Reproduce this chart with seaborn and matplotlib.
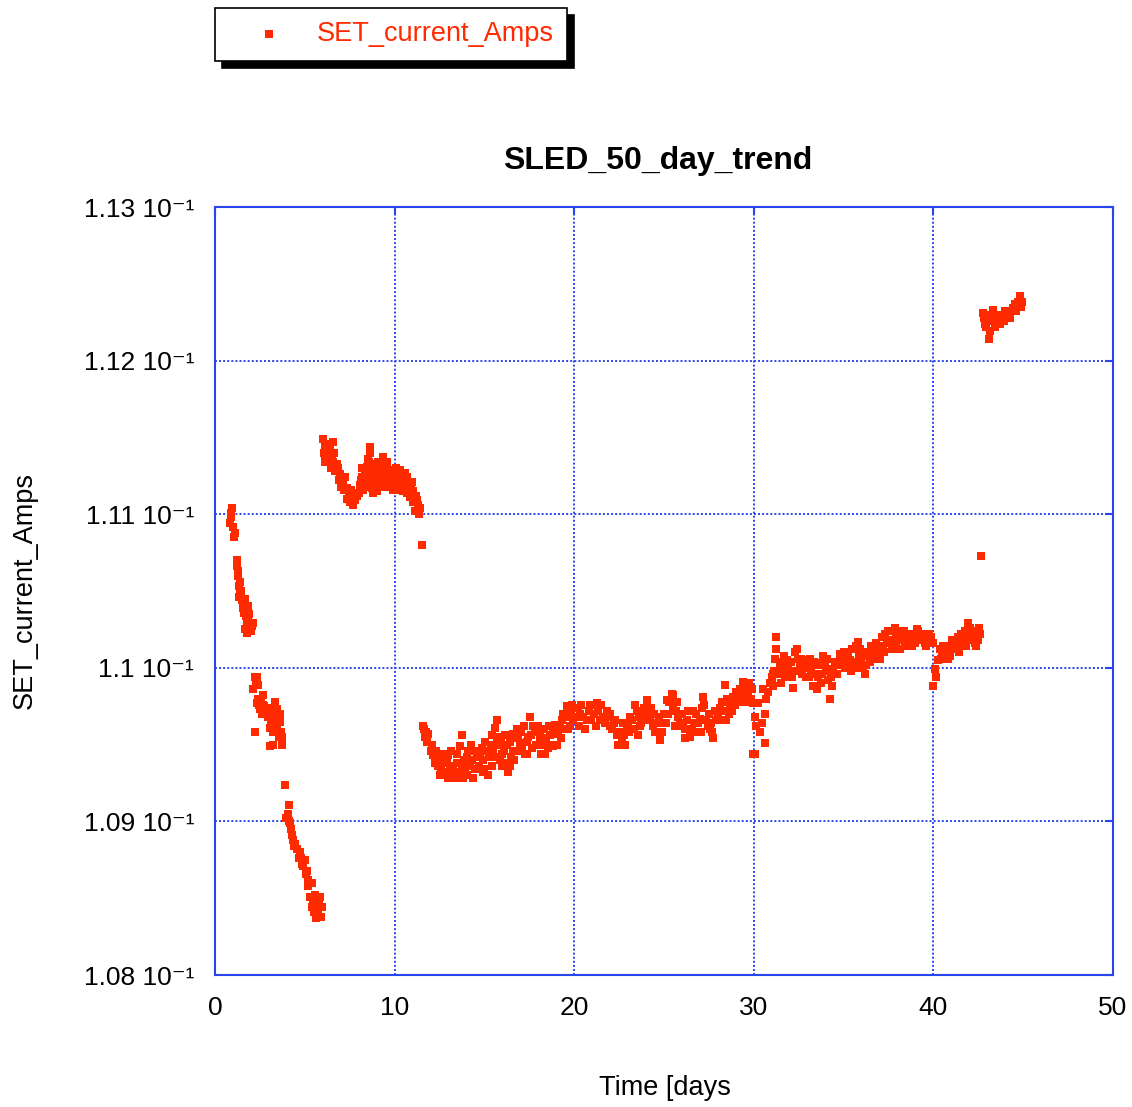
import matplotlib
matplotlib.use("Agg")
from matplotlib import pyplot as plt
from matplotlib.ticker import FuncFormatter, MultipleLocator
import seaborn as sns
import pandas as pd

# values (days, amps), one pair of lists per stretch of the trend
days_drop = [0.84, 0.87, 0.90, 0.93, 1.00, 1.05, 1.11, 1.24, 1.28, 1.30, 1.33, 1.39, 1.39, 1.45, 1.50,
             1.55, 1.58, 1.62, 1.67, 1.68, 1.70, 1.76, 1.76, 1.80, 1.84, 1.85, 1.95, 2.00, 2.04, 2.10,
             2.13, 2.23, 2.28, 2.32, 2.36, 2.40, 2.41, 2.50, 2.55, 2.60, 2.69, 2.75, 2.85, 2.95, 3.06,
             3.06, 3.15, 3.20, 3.25, 3.30, 3.34, 3.43, 3.43, 3.50, 3.55, 3.62, 3.65, 3.71, 3.71,
             3.90, 3.95, 4.05, 4.12, 4.18, 4.22, 4.27, 4.35, 4.45, 4.55, 4.65, 4.73, 4.85, 4.92, 5.01,
             5.05, 5.10, 5.20, 5.29, 5.38, 5.38, 5.45, 5.50, 5.55, 5.62, 5.66, 5.75, 5.80, 5.85, 5.94,
             1.20, 1.35, 1.90, 2.20, 2.45, 2.65, 3.00, 3.10, 3.40, 3.60, 4.10, 4.40, 4.80, 5.15, 5.70,
             5.90]
amps_drop = [0.11094, 0.11101, 0.11098, 0.11104, 0.11092, 0.11085, 0.11088, 0.11066, 0.11060, 0.11063,
             0.11053, 0.11056, 0.11049, 0.11050, 0.11044, 0.11042, 0.11039, 0.11036, 0.11045, 0.11025,
             0.11034, 0.11030, 0.11023, 0.11027, 0.11040, 0.11032, 0.11028, 0.11024, 0.11027, 0.11029,
             0.10986, 0.10958, 0.10990, 0.10977, 0.10994, 0.10980, 0.10989, 0.10973, 0.10978, 0.10970,
             0.10982, 0.10975, 0.10972, 0.10968, 0.10961, 0.10949, 0.10962, 0.10950, 0.10958, 0.10970,
             0.10978, 0.10973, 0.10960, 0.10968, 0.10955, 0.10965, 0.10958, 0.10955, 0.10950,
             0.10924, 0.10902, 0.10905, 0.10911, 0.10899, 0.10895, 0.10891, 0.10888, 0.10885, 0.10882,
             0.10876, 0.10880, 0.10872, 0.10871, 0.10875, 0.10866, 0.10868, 0.10862, 0.10851, 0.10860,
             0.10844, 0.10848, 0.10841, 0.10852, 0.10837, 0.10840, 0.10842, 0.10847, 0.10851, 0.10844,
             0.11070, 0.11046, 0.11035, 0.10994, 0.10976, 0.10976, 0.10974, 0.10966, 0.10964, 0.10970,
             0.10900, 0.10884, 0.10876, 0.10858, 0.10848, 0.10838]

days_hump = [6.03, 6.05, 6.12, 6.12, 6.20, 6.25, 6.30, 6.40, 6.45, 6.50, 6.59, 6.65, 6.70, 6.77, 6.85,
             6.90, 6.96, 7.00, 7.14, 7.20, 7.25, 7.33, 7.45, 7.50, 7.61, 7.70, 7.80, 7.90, 8.00, 8.07,
             8.17, 8.20, 8.30, 8.35, 8.45, 8.50, 8.55, 8.63, 8.63, 8.63, 8.70, 8.75, 8.80, 8.82, 8.90,
             8.95, 9.00, 9.00, 9.10, 9.19, 9.25, 9.30, 9.37, 9.45, 9.50, 9.56, 9.65, 9.74, 9.80, 9.85,
             9.93, 10.00, 10.05, 10.11, 10.20, 10.30, 10.30, 10.40, 10.48, 10.55, 10.60, 10.67, 10.75,
             10.80, 10.86, 10.95, 11.00, 11.05, 11.14, 11.20, 11.23, 11.30, 11.32, 11.35, 11.51,
             6.10, 6.35, 6.55, 7.05, 7.35, 7.55, 7.75, 8.10, 8.25, 8.40, 8.60, 8.85, 9.05, 9.15, 9.35,
             9.60, 9.70, 9.90, 10.10, 10.25, 10.35, 10.50, 10.70, 10.90, 11.10, 11.25, 11.40]
amps_hump = [0.11149, 0.11140, 0.11144, 0.11134, 0.11146, 0.11136, 0.11141, 0.11142, 0.11130, 0.11137,
             0.11147, 0.11140, 0.11128, 0.11133, 0.11130, 0.11122, 0.11126, 0.11118, 0.11121, 0.11116,
             0.11124, 0.11117, 0.11113, 0.11108, 0.11112, 0.11106, 0.11109, 0.11112, 0.11114, 0.11119,
             0.11124, 0.11130, 0.11121, 0.11128, 0.11131, 0.11136, 0.11125, 0.11144, 0.11140, 0.11121,
             0.11132, 0.11117, 0.11114, 0.11129, 0.11124, 0.11133, 0.11127, 0.11115, 0.11126, 0.11131,
             0.11120, 0.11132, 0.11137, 0.11126, 0.11118, 0.11130, 0.11125, 0.11118, 0.11127, 0.11120,
             0.11129, 0.11124, 0.11130, 0.11116, 0.11122, 0.11129, 0.11120, 0.11126, 0.11115, 0.11118,
             0.11127, 0.11124, 0.11119, 0.11114, 0.11111, 0.11121, 0.11115, 0.11108, 0.11102, 0.11112,
             0.11109, 0.11106, 0.11104, 0.11100, 0.11080,
             0.11138, 0.11134, 0.11134, 0.11124, 0.11110, 0.11116, 0.11112, 0.11122, 0.11116, 0.11118,
             0.11134, 0.11120, 0.11134, 0.11118, 0.11124, 0.11134, 0.11122, 0.11116, 0.11126, 0.11118,
             0.11124, 0.11122, 0.11114, 0.11117, 0.11110, 0.11102, 0.11104]

days_low = [11.60, 11.65, 11.69, 11.75, 11.80, 11.88, 12.05, 12.16, 12.25, 12.34, 12.43, 12.50, 12.60,
            12.71, 12.80, 12.90, 12.99, 13.10, 13.20, 13.27, 13.36, 13.45, 13.55, 13.64, 13.73, 13.73,
            13.85, 13.90, 14.01, 14.10, 14.20, 14.30, 14.38, 14.50, 14.60, 14.76, 14.85, 14.94, 15.00,
            15.13, 15.25, 15.35, 15.41, 15.50, 15.59, 15.68, 15.68, 15.80, 15.85, 15.96, 16.10, 16.24,
            16.24, 16.33, 16.40, 16.50, 16.61, 16.61, 16.70, 16.79, 16.90, 16.98, 17.10, 17.26, 17.35,
            17.44, 17.54, 17.63, 17.70, 17.82, 17.95, 18.10, 18.20, 18.30, 18.37, 18.45, 18.56, 18.65,
            18.75, 18.84, 18.93, 19.00, 19.11, 19.20, 19.30, 19.39, 19.50, 19.58, 19.70, 19.77, 19.85,
            19.95,
            12.10, 12.30, 12.55, 12.75, 13.00, 13.15, 13.50, 13.80, 14.05, 14.25, 14.45, 14.70, 14.90,
            15.05, 15.20, 15.45, 15.65, 15.90, 16.00, 16.15, 16.45, 16.65, 16.85, 17.05, 17.20, 17.40,
            17.60, 17.85, 18.00, 18.15, 18.40, 18.60, 18.80, 19.05, 19.25, 19.45, 19.65, 19.90]
amps_low = [0.10962, 0.10960, 0.10955, 0.10958, 0.10952, 0.10957, 0.10946, 0.10943, 0.10938, 0.10940,
            0.10936, 0.10942, 0.10934, 0.10938, 0.10932, 0.10940, 0.10943, 0.10936, 0.10930, 0.10934,
            0.10928, 0.10938, 0.10932, 0.10949, 0.10956, 0.10937, 0.10940, 0.10932, 0.10942, 0.10946,
            0.10936, 0.10940, 0.10928, 0.10934, 0.10942, 0.10944, 0.10948, 0.10940, 0.10934, 0.10946,
            0.10942, 0.10950, 0.10936, 0.10946, 0.10961, 0.10966, 0.10955, 0.10950, 0.10940, 0.10944,
            0.10946, 0.10938, 0.10950, 0.10932, 0.10952, 0.10942, 0.10957, 0.10946, 0.10954, 0.10960,
            0.10956, 0.10951, 0.10948, 0.10944, 0.10952, 0.10955, 0.10968, 0.10948, 0.10962, 0.10960,
            0.10958, 0.10955, 0.10950, 0.10960, 0.10951, 0.10954, 0.10948, 0.10956, 0.10950, 0.10949,
            0.10963, 0.10958, 0.10957, 0.10962, 0.10966, 0.10970, 0.10968, 0.10975, 0.10970, 0.10962,
            0.10972, 0.10966,
            0.10950, 0.10946, 0.10930, 0.10944, 0.10928, 0.10946, 0.10944, 0.10928, 0.10930, 0.10950,
            0.10946, 0.10936, 0.10932, 0.10952, 0.10930, 0.10956, 0.10942, 0.10954, 0.10936, 0.10956,
            0.10936, 0.10940, 0.10946, 0.10958, 0.10962, 0.10944, 0.10956, 0.10950, 0.10962, 0.10944,
            0.10944, 0.10962, 0.10958, 0.10950, 0.10954, 0.10960, 0.10960, 0.10976]

days_mid = [20.10, 20.20, 20.32, 20.50, 20.69, 20.80, 20.95, 21.10, 21.25, 21.35, 21.43, 21.60, 21.70,
            21.81, 21.99, 22.10, 22.20, 22.36, 22.50, 22.64, 22.75, 22.92, 23.00, 23.11, 23.25, 23.35,
            23.48, 23.60, 23.66, 23.80, 23.90, 24.04, 24.13, 24.25, 24.41, 24.50, 24.60, 24.78, 24.90,
            25.00, 25.15, 25.30, 25.43, 25.52, 25.65, 25.80, 25.90, 26.07, 26.20, 26.30, 26.45, 26.55,
            26.63, 26.80, 26.90, 27.00, 27.10, 27.19, 27.35, 27.45, 27.56, 27.65, 27.75, 27.90, 28.02,
            28.10, 28.21, 28.30, 28.40, 28.50, 28.60, 28.68, 28.75, 28.86, 28.95, 29.10, 29.23, 29.30,
            29.42, 29.55, 29.60, 29.70, 29.85, 29.98, 29.98, 30.07, 30.07, 30.15, 30.25, 30.34, 30.45,
            30.53, 30.62, 30.62, 30.70, 30.80, 30.90, 31.00, 31.09,
            20.25, 20.40, 20.60, 20.90, 21.20, 21.50, 21.90, 22.00, 22.30, 22.45, 22.70, 22.85, 23.05,
            23.40, 23.55, 23.75, 24.00, 24.30, 24.45, 24.70, 24.85, 25.10, 25.25, 25.50, 25.60, 25.75,
            26.00, 26.15, 26.35, 26.70, 26.85, 27.05, 27.25, 27.50, 27.70, 27.85, 28.15, 28.45, 28.80,
            29.00, 29.20, 29.45, 29.75, 29.90]
amps_mid = [0.10968, 0.10974, 0.10970, 0.10968, 0.10966, 0.10972, 0.10966, 0.10970, 0.10977, 0.10972,
            0.10966, 0.10968, 0.10964, 0.10972, 0.10962, 0.10960, 0.10964, 0.10956, 0.10958, 0.10953,
            0.10956, 0.10960, 0.10964, 0.10968, 0.10966, 0.10960, 0.10972, 0.10968, 0.10962, 0.10970,
            0.10974, 0.10979, 0.10970, 0.10966, 0.10962, 0.10958, 0.10964, 0.10953, 0.10958, 0.10970,
            0.10979, 0.10978, 0.10983, 0.10975, 0.10972, 0.10968, 0.10964, 0.10962, 0.10960, 0.10966,
            0.10955, 0.10960, 0.10972, 0.10970, 0.10964, 0.10967, 0.10974, 0.10981, 0.10966, 0.10962,
            0.10960, 0.10964, 0.10954, 0.10966, 0.10970, 0.10974, 0.10978, 0.10972, 0.10989, 0.10980,
            0.10970, 0.10975, 0.10978, 0.10981, 0.10976, 0.10982, 0.10986, 0.10984, 0.10991, 0.10986,
            0.10978, 0.10982, 0.10980, 0.10977, 0.10944, 0.10968, 0.10944, 0.10962, 0.10977, 0.10958,
            0.10964, 0.10986, 0.10970, 0.10951, 0.10980, 0.10984, 0.10990, 0.10992, 0.10996,
            0.10962, 0.10976, 0.10960, 0.10976, 0.10962, 0.10976, 0.10968, 0.10970, 0.10966, 0.10950,
            0.10964, 0.10950, 0.10958, 0.10976, 0.10956, 0.10964, 0.10966, 0.10974, 0.10970, 0.10968,
            0.10964, 0.10964, 0.10970, 0.10982, 0.10962, 0.10978, 0.10970, 0.10954, 0.10972, 0.10964,
            0.10958, 0.10958, 0.10976, 0.10970, 0.10958, 0.10972, 0.10966, 0.10966, 0.10972, 0.10984,
            0.10978, 0.10980, 0.10990, 0.10986]

days_rise = [31.00, 31.09, 31.15, 31.27, 31.27, 31.35, 31.46, 31.55, 31.65, 31.75, 31.83, 31.90, 32.02,
             32.10, 32.20, 32.29, 32.35, 32.45, 32.57, 32.70, 32.80, 32.94, 33.05, 33.10, 33.22, 33.31,
             33.40, 33.50, 33.60, 33.69, 33.75, 33.87, 33.95, 34.05, 34.15, 34.24, 34.35, 34.43, 34.55,
             34.65, 34.80, 34.90, 34.98, 35.10, 35.25, 35.36, 35.50, 35.60, 35.70, 35.82, 35.91, 36.00,
             36.10, 36.19, 36.30, 36.47, 36.55, 36.65, 36.80, 36.90, 37.03, 37.12, 37.20, 37.30, 37.40,
             37.55, 37.65, 37.75, 37.86, 37.95, 38.05, 38.14, 38.25, 38.35, 38.51, 38.65, 38.75, 38.88,
             38.95, 39.07, 39.20, 39.30, 39.44, 39.55, 39.65, 39.81, 39.90, 40.00, 39.99, 40.09, 40.18,
             40.27, 40.37, 40.45, 40.55, 40.74, 40.85, 40.95, 41.01, 41.10, 41.20, 41.29, 41.40, 41.48,
             41.57, 41.65, 41.75, 41.85, 41.94, 42.05, 42.10, 42.22, 42.30, 42.41, 42.50, 42.59, 42.68,
             31.20, 31.50, 31.70, 32.15, 32.40, 32.65, 32.90, 33.15, 33.35, 33.55, 33.80, 34.10, 34.30,
             34.50, 34.75, 35.05, 35.20, 35.40, 35.65, 35.85, 36.05, 36.25, 36.40, 36.60, 36.75, 37.00,
             37.25, 37.50, 37.70, 37.90, 38.20, 38.45, 38.60, 38.80, 39.00, 39.15, 39.40, 39.60, 39.75,
             40.50, 40.65, 40.80, 41.05, 41.25, 41.45, 41.60, 41.80, 42.00, 42.15, 42.35, 42.55]
amps_rise = [0.10994, 0.10988, 0.10998, 0.11020, 0.11012, 0.10996, 0.11001, 0.10998, 0.11004, 0.10994,
             0.11005, 0.11000, 0.10996, 0.11004, 0.10987, 0.11010, 0.10998, 0.11006, 0.11001, 0.10996,
             0.11004, 0.11005, 0.11000, 0.10994, 0.10999, 0.10988, 0.10996, 0.11002, 0.10994, 0.11003,
             0.10990, 0.11008, 0.11002, 0.10998, 0.10992, 0.10980, 0.10988, 0.10999, 0.11004, 0.10996,
             0.11009, 0.11008, 0.11003, 0.11000, 0.11010, 0.11005, 0.11012, 0.11004, 0.11014, 0.11017,
             0.11012, 0.11004, 0.11000, 0.10996, 0.11008, 0.11004, 0.11014, 0.11012, 0.11016, 0.11010,
             0.11006, 0.11020, 0.11014, 0.11022, 0.11018, 0.11016, 0.11024, 0.11018, 0.11026, 0.11016,
             0.11020, 0.11012, 0.11018, 0.11024, 0.11020, 0.11016, 0.11022, 0.11016, 0.11020, 0.11025,
             0.11018, 0.11022, 0.11018, 0.11016, 0.11020, 0.11018, 0.11020, 0.11016, 0.10988, 0.10999,
             0.10994, 0.11005, 0.11012, 0.11006, 0.11014, 0.11010, 0.11012, 0.11008, 0.11012, 0.11016,
             0.11012, 0.11018, 0.11020, 0.11014, 0.11022, 0.11016, 0.11024, 0.11020, 0.11029, 0.11026,
             0.11018, 0.11020, 0.11024, 0.11014, 0.11018, 0.11022, 0.11073,
             0.11006, 0.10990, 0.11008, 0.10994, 0.11012, 0.11006, 0.10994, 0.11006, 0.11004, 0.10986,
             0.10996, 0.11006, 0.10994, 0.10996, 0.11002, 0.11010, 0.11002, 0.10998, 0.11000, 0.11008,
             0.11010, 0.11002, 0.11010, 0.11006, 0.11010, 0.11014, 0.11010, 0.11024, 0.11012, 0.11022,
             0.11024, 0.11014, 0.11022, 0.11014, 0.11016, 0.11024, 0.11022, 0.11014, 0.11022, 0.11008,
             0.11014, 0.11006, 0.11018, 0.11016, 0.11010, 0.11020, 0.11014, 0.11020, 0.11024, 0.11016,
             0.11026]

days_top = [42.78, 42.82, 42.87, 42.95, 43.05, 43.10, 43.15, 43.25, 43.34, 43.45, 43.52, 43.65, 43.80,
            43.95, 44.08, 44.20, 44.36, 44.45, 44.54, 44.70, 44.82, 44.85, 44.91, 44.95,
            43.00, 43.40, 43.70, 44.00, 44.30, 44.60]
amps_top = [0.11231, 0.11228, 0.11224, 0.11222, 0.11226, 0.11214, 0.11219, 0.11228, 0.11233, 0.11222,
            0.11226, 0.11230, 0.11229, 0.11226, 0.11228, 0.11232, 0.11232, 0.11234, 0.11237, 0.11238,
            0.11242, 0.11240, 0.11235, 0.11238,
            0.11230, 0.11226, 0.11224, 0.11232, 0.11228, 0.11232]

days = days_drop + days_hump + days_low + days_mid + days_rise + days_top
amps = amps_drop + amps_hump + amps_low + amps_mid + amps_rise + amps_top
df = pd.DataFrame({"Time": days, "SET_current_Amps": amps})

blue = "#2a45f0"
red = "#ff2a00"

sns.set_style("white")
plt.rcParams["font.family"] = ["Liberation Sans", "DejaVu Sans"]
plt.rcParams["text.color"] = "black"

fig = plt.figure(figsize=(11.32, 11.07), dpi=100)
ax = fig.add_axes([0.19, 0.1192, 0.793, 0.6938])

sns.scatterplot(data=df, x="Time", y="SET_current_Amps", marker="s", s=34, color=red,
                linewidth=0, label="SET_current_Amps", ax=ax)

ax.set_xlim(0, 50)
ax.set_ylim(0.108, 0.113)
ax.xaxis.set_major_locator(MultipleLocator(10))
ax.yaxis.set_major_locator(MultipleLocator(0.001))
ax.yaxis.set_major_formatter(FuncFormatter(lambda v, p: "%g 10\u207b\u00b9" % round(v * 10, 4)))

ax.grid(True, color=blue, linestyle=(0, (1, 1.1)), linewidth=1.4)
for sp in ax.spines.values():
    sp.set_color(blue)
    sp.set_linewidth(1.5)
ax.tick_params(direction="in", length=6, width=1.5, color=blue, labelsize=19, pad=15,
               labelcolor="black", top=True, right=True)

ax.set_xlabel("")
ax.set_ylabel("")
fig.text(0.587, 0.017, "Time [days", ha="center", va="center", fontsize=19.5)
fig.text(0.022, 0.467, "SET_current_Amps", ha="center", va="center", rotation=90, fontsize=19.5)
fig.text(0.581, 0.855, "SLED_50_day_trend", ha="center", va="center", fontsize=23,
         fontweight="bold")

leg = ax.legend(loc="upper left", bbox_to_anchor=(0.19, 0.993), bbox_transform=fig.transFigure,
                fancybox=False, frameon=True, edgecolor="black", framealpha=1,
                shadow={"color": "black", "alpha": 1, "ox": 5, "oy": -5},
                fontsize=19.5, markerscale=0.9, handletextpad=0.25, borderpad=0.5,
                borderaxespad=0, handlelength=3.0)
leg.get_frame().set_linewidth(1.2)
for t in leg.get_texts():
    t.set_color(red)

fig.savefig("out.png", dpi=100)
